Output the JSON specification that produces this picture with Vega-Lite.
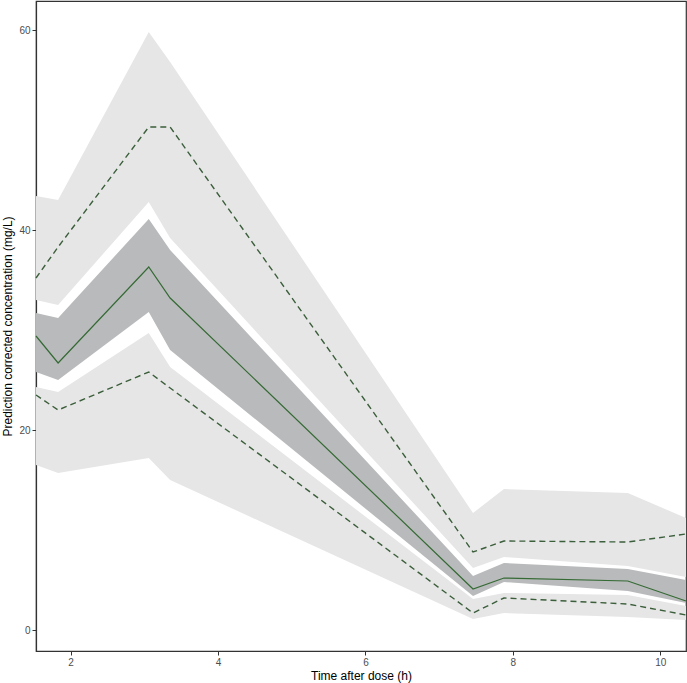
{
  "$schema": "https://vega.github.io/schema/vega-lite/v6.json",
  "autosize": "none",
  "width": 650,
  "height": 650,
  "padding": {"left": 36, "top": 1, "right": 1, "bottom": 32},
  "background": "white",
  "config": {
    "font": "Liberation Sans",
    "view": {"stroke": "#333333", "strokeWidth": 1.2},
    "axis": {
      "grid": false,
      "domainColor": "#333333",
      "domainWidth": 1.2,
      "tickColor": "#333333",
      "tickSize": 4,
      "labelColor": "#4d4d4d",
      "labelFontSize": 10,
      "labelPadding": 2,
      "titleColor": "#000000",
      "titleFontSize": 12,
      "titleFontWeight": "normal"
    }
  },
  "data": {
    "values": [
      {"t": 1.53, "ulTop": 43.4, "ulBot": 33.0, "dkTop": 31.7, "dkBot": 25.8, "llTop": 24.3, "llBot": 16.5, "med": 29.4, "p95": 35.2, "p05": 23.5},
      {"t": 1.83, "ulTop": 43.0, "ulBot": 32.5, "dkTop": 31.2, "dkBot": 25.0, "llTop": 23.8, "llBot": 15.7, "med": 26.7, "p95": 38.3, "p05": 22.0},
      {"t": 3.06, "ulTop": 59.8, "ulBot": 42.8, "dkTop": 41.1, "dkBot": 31.8, "llTop": 29.7, "llBot": 17.2, "med": 36.3, "p95": 50.3, "p05": 25.8},
      {"t": 3.35, "ulTop": 56.8, "ulBot": 39.2, "dkTop": 38.0, "dkBot": 28.0, "llTop": 26.3, "llBot": 15.0, "med": 33.2, "p95": 50.3, "p05": 24.2},
      {"t": 7.46, "ulTop": 11.7, "ulBot": 6.2, "dkTop": 5.4, "dkBot": 3.4, "llTop": 3.1, "llBot": 1.1, "med": 4.1, "p95": 7.8, "p05": 1.7},
      {"t": 7.88, "ulTop": 14.1, "ulBot": 7.3, "dkTop": 6.7, "dkBot": 4.8, "llTop": 3.7, "llBot": 1.7, "med": 5.2, "p95": 8.9, "p05": 3.2},
      {"t": 9.56, "ulTop": 13.7, "ulBot": 6.4, "dkTop": 6.1, "dkBot": 3.9, "llTop": 3.5, "llBot": 1.3, "med": 4.9, "p95": 8.8, "p05": 2.6},
      {"t": 10.35, "ulTop": 11.2, "ulBot": 5.3, "dkTop": 5.0, "dkBot": 2.7, "llTop": 2.4, "llBot": 1.0, "med": 2.9, "p95": 9.6, "p05": 1.5}
    ]
  },
  "encoding": {
    "x": {
      "field": "t", "type": "quantitative",
      "scale": {"domain": [1.53, 10.35], "nice": false, "zero": false},
      "axis": {"values": [2, 4, 6, 8, 10], "title": "Time after dose (h)", "titlePadding": 3}
    }
  },
  "layer": [
    {
      "mark": {"type": "area", "color": "#e6e6e6", "opacity": 1},
      "encoding": {
        "y": {"field": "ulTop", "type": "quantitative",
          "scale": {"domain": [-2.1, 62.9], "nice": false, "zero": false},
          "axis": {"values": [0, 20, 40, 60], "title": "Prediction corrected concentration (mg/L)", "titlePadding": 4}},
        "y2": {"field": "ulBot"}
      }
    },
    {
      "mark": {"type": "area", "color": "#e6e6e6", "opacity": 1},
      "encoding": {"y": {"field": "llTop", "type": "quantitative"}, "y2": {"field": "llBot"}}
    },
    {
      "mark": {"type": "area", "color": "#b9babb", "opacity": 1},
      "encoding": {"y": {"field": "dkTop", "type": "quantitative"}, "y2": {"field": "dkBot"}}
    },
    {
      "mark": {"type": "line", "color": "#356a35", "strokeWidth": 1.2},
      "encoding": {"y": {"field": "med", "type": "quantitative"}}
    },
    {
      "mark": {"type": "line", "color": "#3b5e3b", "strokeWidth": 1.4, "strokeDash": [6, 4]},
      "encoding": {"y": {"field": "p95", "type": "quantitative"}}
    },
    {
      "mark": {"type": "line", "color": "#3b5e3b", "strokeWidth": 1.4, "strokeDash": [6, 4]},
      "encoding": {"y": {"field": "p05", "type": "quantitative"}}
    }
  ]
}
